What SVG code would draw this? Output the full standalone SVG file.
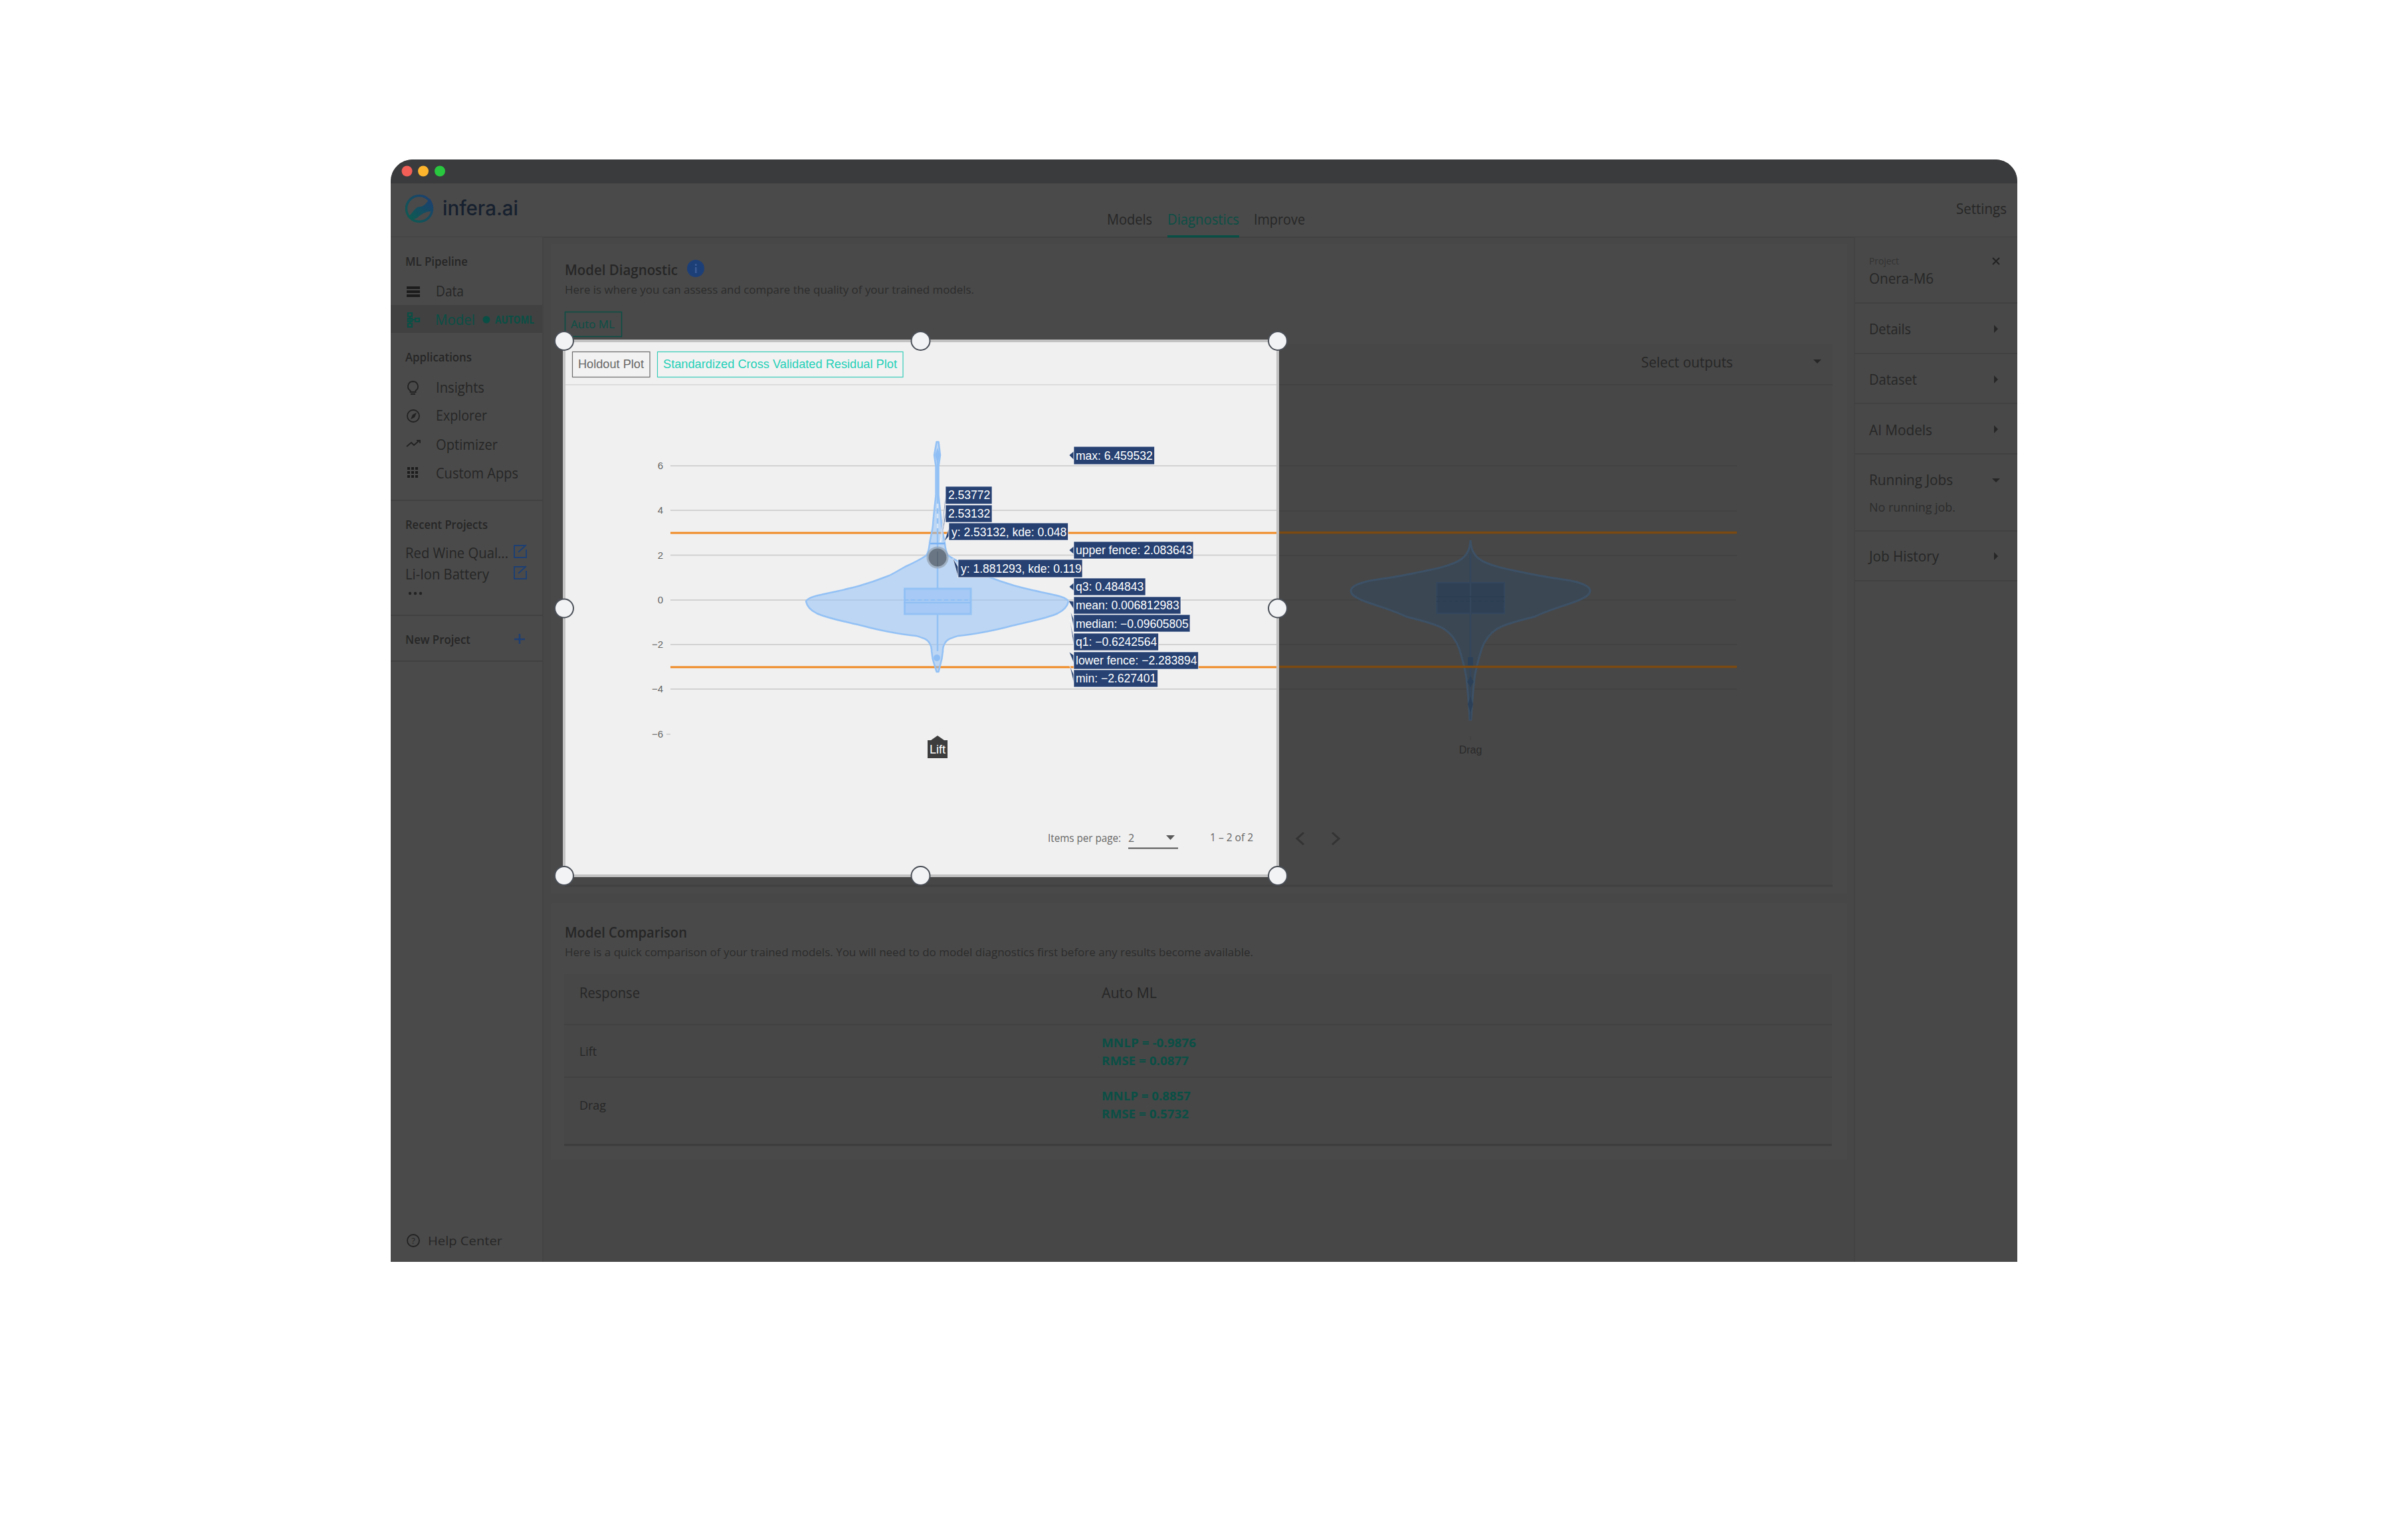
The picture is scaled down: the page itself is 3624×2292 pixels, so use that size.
<svg xmlns="http://www.w3.org/2000/svg" width="3624" height="2292" viewBox="0 0 3624 2292">
<defs>
<style>
text{font-family:"Open Sans","Noto Sans",sans-serif;fill:#262626;font-size:21px}
.sec{font-size:18px;font-weight:600}
.nav{font-size:21px}
.sub{font-size:17px;fill:#2c2c2c}
.teal{fill:#0a4f45}
.tab{fill:#0a4f45;font-size:17px}
.ar{font-family:"Liberation Sans",Arial,sans-serif}
.tip{font-family:"Liberation Sans",Arial,sans-serif;font-size:17.5px;fill:#fff}
.tb{fill:#264172;stroke:#fff;stroke-opacity:.65;stroke-width:1}
.wg{fill:#264172;stroke:#fff;stroke-width:.8;stroke-opacity:.7}
.tick{font-family:"Liberation Sans",Arial,sans-serif;font-size:15px;fill:#666;text-anchor:end}
.gl{stroke:#d2d2d2;stroke-width:2}
.gd{stroke:#404040;stroke-width:1.500}
.hd{fill:#f2f3f5;stroke:#4b5058;stroke-width:2}
.div{stroke:#414141;stroke-width:2}
.arrow{fill:#262626}
.met{fill:#0a4f45;font-size:18px;font-weight:700}
.ic{fill:none;stroke:#222;stroke-width:1.800}
.link{fill:none;stroke:#1d3f73;stroke-width:2}
</style>
<linearGradient id="logo" x1="0" y1="1" x2="1" y2="0">
<stop offset="0" stop-color="#0d5c50"/><stop offset="1" stop-color="#1c3e72"/>
</linearGradient>
</defs>
<rect width="3624" height="2292" fill="#fff"/>
<g id="window">
<path d="M588 1899V273a33 33 0 0 1 33-33H3003a33 33 0 0 1 33 33V1899Z" fill="#474747"/>
<path d="M588 276V273a33 33 0 0 1 33-33H3003a33 33 0 0 1 33 33V276Z" fill="#3a3b3d"/>
<circle cx="612.5" cy="257.5" r="8" fill="#f25f57"/>
<circle cx="637" cy="257.5" r="8" fill="#fdb52e"/>
<circle cx="662" cy="257.5" r="8" fill="#29c73f"/>
</g>
<g id="header">
<rect x="588" y="276" width="2448" height="81" fill="#4a4a4a"/>
<line x1="588" y1="357" x2="3036" y2="357" class="div"/>
<circle cx="631" cy="314" r="19.5" fill="none" stroke="url(#logo)" stroke-width="3.5"/>
<path d="M614 326C622 321 624 311 632 311C639 311 642 304 647 299C651 304 652 312 650 318C642 318 636 321 630 326C625 331 619 331 614 326Z" fill="url(#logo)"/>
<text x="666" y="324" textLength="114" lengthAdjust="spacingAndGlyphs" style="font-family:Inter,sans-serif;font-size:30px;font-weight:500;fill:#16202e">infera.ai</text>
<text x="1666" y="338" textLength="68" lengthAdjust="spacingAndGlyphs">Models</text>
<text x="1757" y="338" textLength="108" lengthAdjust="spacingAndGlyphs" class="teal">Diagnostics</text>
<rect x="1757" y="354" width="108" height="3.5" fill="#0a4f45"/>
<text x="1887" y="338" textLength="77" lengthAdjust="spacingAndGlyphs">Improve</text>
<text x="2944" y="322" textLength="76" lengthAdjust="spacingAndGlyphs">Settings</text>
</g>
<g id="sidebar">
<rect x="588" y="357" width="229" height="1542" fill="#4a4a4a"/>
<rect x="588" y="459" width="229" height="42" fill="#414141"/>
<line x1="817" y1="357" x2="817" y2="1899" stroke="#434343" stroke-width="2"/>
<text x="610" y="400" class="sec" textLength="94" lengthAdjust="spacingAndGlyphs">ML Pipeline</text>
<path d="M612 431h20v4h-20zM612 437h20v4h-20zM612 443h20v4h-20z" fill="#1c1c1c"/>
<text x="656" y="446" class="nav" textLength="42" lengthAdjust="spacingAndGlyphs">Data</text>
<path d="M614 471h6v5h-6zM614 479h6v5h-6zM614 487h6v5h-6zM625 479h6v5h-6zM617 476v11M620 481h5" fill="none" stroke="#0a4f45" stroke-width="2.200"/>
<text x="655" y="489" class="nav teal" textLength="60" lengthAdjust="spacingAndGlyphs">Model</text>
<circle cx="732" cy="481" r="5.5" fill="#0a4f45"/>
<text x="745" y="487" textLength="59" lengthAdjust="spacingAndGlyphs" style="font-size:16px;font-weight:700;fill:#0a4f45">AUTOML</text>
<text x="610" y="544" class="sec" textLength="100" lengthAdjust="spacingAndGlyphs">Applications</text>
<path d="M621.500 574a7.500 7.500 0 0 1 4 13.800v2.200h-8v-2.200a7.500 7.500 0 0 1 4-13.800ZM618 593h7" class="ic"/>
<text x="656" y="591" class="nav" textLength="73" lengthAdjust="spacingAndGlyphs">Insights</text>
<circle cx="622" cy="626" r="9" class="ic"/>
<path d="M627 621l-3 7-6 3 3-7Z" fill="#222"/>
<text x="656" y="633" class="nav" textLength="77" lengthAdjust="spacingAndGlyphs">Explorer</text>
<path d="M612 672l7-6 4 4 8-7M627 663h5v4" class="ic"/>
<text x="656" y="677" class="nav" textLength="93" lengthAdjust="spacingAndGlyphs">Optimizer</text>
<path d="M613 703h4v4h-4zM619 703h4v4h-4zM625 703h4v4h-4zM613 709h4v4h-4zM619 709h4v4h-4zM625 709h4v4h-4zM613 715h4v4h-4zM619 715h4v4h-4zM625 715h4v4h-4z" fill="#1c1c1c"/>
<text x="656" y="720" class="nav" textLength="124" lengthAdjust="spacingAndGlyphs">Custom Apps</text>
<line x1="588" y1="753" x2="817" y2="753" class="div"/>
<text x="610" y="796" class="sec" textLength="124" lengthAdjust="spacingAndGlyphs">Recent Projects</text>
<text x="610" y="840" class="nav" textLength="155" lengthAdjust="spacingAndGlyphs">Red Wine Qual...</text>
<path d="M790 821h-16v18h18v-12M780 831l12-11" class="link"/>
<text x="610" y="872" class="nav" textLength="126" lengthAdjust="spacingAndGlyphs">Li-Ion Battery</text>
<path d="M790 853h-16v18h18v-12M780 863l12-11" class="link"/>
<circle cx="617" cy="893" r="2.200" fill="#222"/><circle cx="625" cy="893" r="2.200" fill="#222"/><circle cx="633" cy="893" r="2.200" fill="#222"/>
<line x1="588" y1="926" x2="817" y2="926" class="div"/>
<text x="610" y="969" class="sec" textLength="98" lengthAdjust="spacingAndGlyphs">New Project</text>
<path d="M782 954v15M774 962h16" stroke="#1d3f73" stroke-width="2.500" fill="none"/>
<line x1="588" y1="995" x2="817" y2="995" class="div"/>
<circle cx="622" cy="1867" r="9" class="ic"/>
<text x="622" y="1872" style="font-size:13px;text-anchor:middle">?</text>
<text x="644" y="1874" style="font-size:19px" textLength="112" lengthAdjust="spacingAndGlyphs">Help Center</text>
</g>
<g id="diagnostic-panel">
<rect x="829" y="367" width="1951" height="978" fill="#494949"/>
<text x="850" y="414" textLength="170" lengthAdjust="spacingAndGlyphs" style="font-size:22px;font-weight:600">Model Diagnostic</text>
<circle cx="1047" cy="404" r="13" fill="#1d3f78"/>
<rect x="1046" y="402" width="2.500" height="9" fill="#3a5b94"/><rect x="1046" y="397" width="2.500" height="3" fill="#3a5b94"/>
<text x="850" y="442" class="sub" textLength="616" lengthAdjust="spacingAndGlyphs">Here is where you can assess and compare the quality of your trained models.</text>
<rect x="850.500" y="469.500" width="85" height="37" fill="none" stroke="#0a4f45" stroke-width="1.500"/>
<text x="859" y="494" class="tab" textLength="66" lengthAdjust="spacingAndGlyphs">Auto ML</text>
<rect x="850" y="518" width="1908" height="815" fill="#474747"/>
<line x1="850" y1="579" x2="2758" y2="579" class="div"/>
<line x1="850" y1="1333" x2="2758" y2="1333" stroke="#414141" stroke-width="3"/>
<text x="2470" y="553" textLength="138" lengthAdjust="spacingAndGlyphs">Select outputs</text>
<path d="M2729 541h12l-6 6Z" class="arrow"/>
<path d="M1962 1253l-10 9 10 9M2005 1253l10 9-10 9" fill="none" stroke="#333" stroke-width="3"/>
</g>
<g id="drag-plot">
<line x1="1923" y1="701" x2="2614" y2="701" class="gd"/>
<line x1="1923" y1="769" x2="2614" y2="769" class="gd"/>
<line x1="1923" y1="836" x2="2614" y2="836" class="gd"/>
<line x1="1923" y1="903" x2="2614" y2="903" class="gd"/>
<line x1="1923" y1="970" x2="2614" y2="970" class="gd"/>
<line x1="1923" y1="1037" x2="2614" y2="1037" class="gd"/>
<path d="M2213 813C2214 825 2216 833 2226 841C2240 852 2275 858 2310 865C2335 870 2355 872 2369 875C2385 879 2393 884 2393 889C2393 896 2383 901 2369 906C2350 913 2325 920 2310 928C2285 934 2262 940 2252 947C2240 955 2234 965 2230 976C2225 992 2221 1008 2219 1021C2217 1040 2215 1060 2214 1083L2212 1083C2211 1060 2209 1040 2207 1021C2205 1008 2201 992 2196 976C2192 965 2186 955 2174 947C2164 940 2141 934 2116 928C2101 920 2076 913 2057 906C2043 901 2033 896 2033 889C2033 884 2041 879 2057 875C2071 872 2091 870 2116 865C2151 858 2186 852 2200 841C2210 833 2212 825 2213 813Z" fill="#3b4753" stroke="#3d5166" stroke-width="3"/>
<rect x="2162.500" y="877" width="101.500" height="46" fill="#2f4054" stroke="#32465c" stroke-width="2"/>
<line x1="2213" y1="833" x2="2213" y2="1083" stroke="#33465b" stroke-width="2.500"/>
<line x1="2162" y1="898" x2="2264" y2="898" stroke="#2c3e52" stroke-width="2"/>
<line x1="2162" y1="905" x2="2264" y2="905" stroke="#2c3e52" stroke-width="2" stroke-dasharray="5 4"/>
<rect x="2209" y="989" width="8" height="16" fill="#2c4158"/>
<path d="M2213 1048l4 12-4 12-4-12Z" fill="#2c4158"/>
<path d="M2213 1018l5 8-5 8-5-8Z" fill="#2c4158"/>
<line x1="1923" y1="801.500" x2="2614" y2="801.500" stroke="#7a4a12" stroke-width="3.500"/>
<line x1="1923" y1="1003.500" x2="2614" y2="1003.500" stroke="#7a4a12" stroke-width="3.500"/>
<line x1="2213" y1="1108" x2="2213" y2="1114" stroke="#404040" stroke-width="1"/>
<text x="2213" y="1134" class="ar" text-anchor="middle" style="font-size:16px;fill:#2a2a2a">Drag</text>
</g>
<g id="card">
<rect x="849" y="513" width="1074" height="805" fill="#f0f0f0" stroke="#c2c2c2" stroke-width="4"/>
<rect x="861.500" y="529.500" width="116.500" height="38" fill="#f2f2f2" stroke="#6a6a6a" stroke-width="1.200"/>
<text x="870" y="554" class="ar" textLength="99" lengthAdjust="spacingAndGlyphs" style="font-size:18px;fill:#666">Holdout Plot</text>
<rect x="989.500" y="529.500" width="369.500" height="38" fill="#f2f2f2" stroke="#35cdb9" stroke-width="1.200"/>
<text x="998" y="554" class="ar" textLength="352" lengthAdjust="spacingAndGlyphs" style="font-size:18px;fill:#1fd0b8">Standardized Cross Validated Residual Plot</text>
<line x1="851" y1="579" x2="1921" y2="579" stroke="#dcdcdc" stroke-width="2"/>
<line x1="1009" y1="701" x2="1921" y2="701" class="gl"/>
<line x1="1009" y1="768" x2="1921" y2="768" class="gl"/>
<line x1="1009" y1="835.500" x2="1921" y2="835.500" class="gl"/>
<line x1="1009" y1="903" x2="1921" y2="903" class="gl"/>
<line x1="1009" y1="970" x2="1921" y2="970" class="gl"/>
<line x1="1009" y1="1037" x2="1921" y2="1037" class="gl"/>
<line x1="1003" y1="1105" x2="1009" y2="1105" class="gl"/>
<text x="998" y="706" class="tick">6</text>
<text x="998" y="773" class="tick">4</text>
<text x="998" y="841" class="tick">2</text>
<text x="998" y="908" class="tick">0</text>
<text x="998" y="975" class="tick">−2</text>
<text x="998" y="1042" class="tick">−4</text>
<text x="998" y="1110" class="tick">−6</text>
<line x1="1009" y1="802" x2="1921" y2="802" stroke="#f08a24" stroke-width="3"/>
<line x1="1009" y1="1004" x2="1921" y2="1004" stroke="#f08a24" stroke-width="3"/>
<path d="M1409.500 665L1412.500 665L1415 685L1412.500 702L1412.500 745C1414 760 1416 775 1417 790C1418 800 1421 810 1422 818C1423 828 1425 833 1427 836C1436 842 1448 848 1459 853C1470 859 1477 864 1485 867C1500 873 1515 878 1529 882C1548 887 1567 891 1585 895C1595 897 1606 900 1608 905C1606 915 1598 920 1592 923C1575 931 1545 936 1522 942C1500 948 1465 955 1442 957C1432 960 1425 962 1422 968C1418 975 1419 977 1419 980C1418 985 1418 990 1417 993L1412.500 1011L1409.500 1011L1404 993C1403 990 1403 985 1402 980C1402 977 1403 975 1399 968C1396 962 1389 960 1379 957C1356 955 1321 948 1299 942C1276 936 1246 931 1229 923C1223 920 1215 915 1213 905C1215 900 1226 897 1236 895C1254 891 1273 887 1292 882C1306 878 1321 873 1336 867C1344 864 1351 859 1362 853C1373 848 1385 842 1394 836C1396 833 1398 828 1399 818C1400 810 1403 800 1404 790C1405 775 1407 760 1408.500 745L1408.500 702L1406 685Z" fill="#93c1f5" fill-opacity=".55" stroke="#93c1f5" stroke-width="2.500" stroke-linejoin="round"/>
<rect x="1361.500" y="886" width="99.500" height="38" fill="#93c1f5" fill-opacity=".55" stroke="#93c1f5" stroke-width="3"/>
<line x1="1411" y1="690" x2="1411" y2="886" stroke="#93c1f5" stroke-width="2.500"/>
<line x1="1411" y1="924" x2="1411" y2="980" stroke="#93c1f5" stroke-width="2.500"/>
<line x1="1400" y1="818" x2="1422" y2="818" stroke="#7ab2f2" stroke-width="2.500"/>
<line x1="1361" y1="903" x2="1461" y2="903" stroke="#8fbef5" stroke-width="2" stroke-dasharray="6 4"/>
<line x1="1361" y1="907" x2="1461" y2="907" stroke="#8fbef5" stroke-width="2"/>
<line x1="1411" y1="758" x2="1411" y2="795" stroke="#d5e5f8" stroke-width="2.500" stroke-dasharray="7 8"/>
<circle cx="1410" cy="990" r="5" fill="#8fbef5"/>
<path d="M1411 674l4 11-4 12-4-12Z" fill="#8fbef5"/>
<circle cx="1411" cy="839" r="16.500" fill="#93a0ae" fill-opacity=".7"/>
<circle cx="1411" cy="839" r="13.500" fill="#6a7683"/>
<line x1="1411" y1="830" x2="1411" y2="852" stroke="#5b6a7b" stroke-width="2"/>
<path id="lift-tag" d="M1396 1114h5l10-7 10 7h5v27h-30Z" fill="#3d3d3d"/>
<text x="1411" y="1134" class="ar" text-anchor="middle" style="font-size:18px;fill:#fff">Lift</text>
<text x="1577" y="1267" textLength="110" lengthAdjust="spacingAndGlyphs" style="font-size:16px;fill:#666">Items per page:</text>
<text x="1698" y="1267" style="font-size:16px;fill:#666">2</text>
<path d="M1755 1257h13l-6.500 7Z" fill="#5a5a5a"/>
<line x1="1698" y1="1276.500" x2="1773" y2="1276.500" stroke="#555" stroke-width="2"/>
<text x="1821" y="1266" textLength="65" lengthAdjust="spacingAndGlyphs" style="font-size:16px;fill:#666">1 – 2 of 2</text>
</g>
<g id="tooltips">
<polygon class="wg" points="1423,745 1415,816 1423,756"/>
<polygon class="wg" points="1423,768 1416,816 1423,779"/>
<polygon class="wg" points="1428,795 1421,815 1428,807"/>
<polygon class="wg" points="1442,853 1434,840 1442,869"/>
<polygon class="wg" points="1616,679 1609,685 1616,692"/>
<polygon class="wg" points="1616,822 1609,828 1616,834"/>
<polygon class="wg" points="1616,877 1609,883 1616,889"/>
<polygon class="wg" points="1616,905 1608,904 1616,917"/>
<polygon class="wg" points="1616,932 1611,920 1616,945"/>
<polygon class="wg" points="1616,960 1610,933 1616,972"/>
<polygon class="wg" points="1616,986 1609,981 1616,998"/>
<polygon class="wg" points="1616,1015 1610,1002 1616,1028"/>
<rect class="tb" x="1616" y="672" width="121.500" height="27"/><text class="tip" x="1619" y="692">max: 6.459532</text>
<rect class="tb" x="1423" y="732" width="70" height="26.500"/><text class="tip" x="1427" y="751">2.53772</text>
<rect class="tb" x="1423" y="760" width="70" height="26"/><text class="tip" x="1427" y="779">2.53132</text>
<rect class="tb" x="1428" y="787" width="179.500" height="26"/><text class="tip" x="1432" y="807">y: 2.53132, kde: 0.048</text>
<rect class="tb" x="1616" y="815" width="180" height="26"/><text class="tip" x="1619" y="834">upper fence: 2.083643</text>
<rect class="tb" x="1442" y="842" width="187" height="27"/><text class="tip" x="1446" y="862">y: 1.881293, kde: 0.119</text>
<rect class="tb" x="1616" y="870" width="108" height="26"/><text class="tip" x="1619" y="889">q3: 0.484843</text>
<rect class="tb" x="1616" y="898" width="161" height="26"/><text class="tip" x="1619" y="917">mean: 0.006812983</text>
<rect class="tb" x="1616" y="925" width="175" height="26"/><text class="tip" x="1619" y="945">median: −0.09605805</text>
<rect class="tb" x="1616" y="953" width="127.500" height="26"/><text class="tip" x="1619" y="972">q1: −0.6242564</text>
<rect class="tb" x="1616" y="981" width="187.500" height="26"/><text class="tip" x="1619" y="1000">lower fence: −2.283894</text>
<rect class="tb" x="1616" y="1008" width="126.500" height="26"/><text class="tip" x="1619" y="1027">min: −2.627401</text>
</g>
<g id="handles">
<circle class="hd" cx="849" cy="513" r="14"/>
<circle class="hd" cx="1385.500" cy="513" r="14"/>
<circle class="hd" cx="1923" cy="513" r="14"/>
<circle class="hd" cx="849" cy="915.500" r="14"/>
<circle class="hd" cx="1923" cy="915.500" r="14"/>
<circle class="hd" cx="849" cy="1318" r="14"/>
<circle class="hd" cx="1385.500" cy="1318" r="14"/>
<circle class="hd" cx="1923" cy="1318" r="14"/>
</g>
<g id="comparison-panel">
<rect x="829" y="1359" width="1951" height="386" fill="#494949"/>
<text x="850" y="1411" textLength="184" lengthAdjust="spacingAndGlyphs" style="font-size:22px;font-weight:600">Model Comparison</text>
<text x="850" y="1438.500" class="sub" textLength="1036" lengthAdjust="spacingAndGlyphs">Here is a quick comparison of your trained models. You will need to do model diagnostics first before any results become available.</text>
<rect x="849" y="1466" width="1908" height="257" fill="#474747"/>
<line x1="849" y1="1542" x2="2757" y2="1542" class="div"/>
<line x1="849" y1="1621" x2="2757" y2="1621" class="div"/>
<line x1="849" y1="1723" x2="2757" y2="1723" stroke="#3c3c3c" stroke-width="3"/>
<text x="872" y="1502" textLength="91" lengthAdjust="spacingAndGlyphs">Response</text>
<text x="1658" y="1502" textLength="83" lengthAdjust="spacingAndGlyphs">Auto ML</text>
<text x="872" y="1589" style="font-size:19px" textLength="26" lengthAdjust="spacingAndGlyphs">Lift</text>
<text x="872" y="1670" style="font-size:19px" textLength="40" lengthAdjust="spacingAndGlyphs">Drag</text>
<text x="1658" y="1576" class="met" textLength="142" lengthAdjust="spacingAndGlyphs">MNLP = -0.9876</text>
<text x="1658" y="1603" class="met" textLength="131" lengthAdjust="spacingAndGlyphs">RMSE = 0.0877</text>
<text x="1658" y="1656" class="met" textLength="134" lengthAdjust="spacingAndGlyphs">MNLP = 0.8857</text>
<text x="1658" y="1683" class="met" textLength="131" lengthAdjust="spacingAndGlyphs">RMSE = 0.5732</text>
</g>
<g id="right-panel">
<rect x="2791" y="357" width="245" height="1542" fill="#484848"/>
<line x1="2791" y1="357" x2="2791" y2="1899" stroke="#434343" stroke-width="2"/>
<text x="2813" y="398" textLength="45" lengthAdjust="spacingAndGlyphs" style="font-size:15px;fill:#333">Project</text>
<text x="2813" y="427" textLength="97" lengthAdjust="spacingAndGlyphs">Onera-M6</text>
<path d="M2999 388l10 10M3009 388l-10 10" stroke="#222" stroke-width="2" fill="none"/>
<line x1="2791" y1="456" x2="3036" y2="456" class="div"/>
<text x="2813" y="503" textLength="63" lengthAdjust="spacingAndGlyphs">Details</text>
<path d="M3001 489l6 6-6 6Z" class="arrow"/>
<line x1="2791" y1="532" x2="3036" y2="532" class="div"/>
<text x="2813" y="579" textLength="72" lengthAdjust="spacingAndGlyphs">Dataset</text>
<path d="M3001 565l6 6-6 6Z" class="arrow"/>
<line x1="2791" y1="607" x2="3036" y2="607" class="div"/>
<text x="2813" y="655" textLength="95" lengthAdjust="spacingAndGlyphs">AI Models</text>
<path d="M3001 640l6 6-6 6Z" class="arrow"/>
<line x1="2791" y1="683" x2="3036" y2="683" class="div"/>
<text x="2813" y="730" textLength="126" lengthAdjust="spacingAndGlyphs">Running Jobs</text>
<path d="M2998 720h12l-6 6Z" class="arrow"/>
<text x="2813" y="770" textLength="130" lengthAdjust="spacingAndGlyphs" style="font-size:18px;fill:#2c2c2c">No running job.</text>
<line x1="2791" y1="799" x2="3036" y2="799" class="div"/>
<text x="2813" y="845" textLength="105" lengthAdjust="spacingAndGlyphs">Job History</text>
<path d="M3001 831l6 6-6 6Z" class="arrow"/>
<line x1="2791" y1="874" x2="3036" y2="874" class="div"/>
</g>
</svg>
